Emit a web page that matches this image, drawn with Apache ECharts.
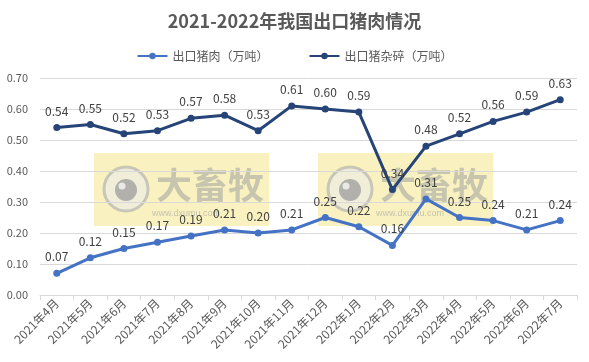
<!DOCTYPE html>
<html><head><meta charset="utf-8">
<script src="https://cdn.jsdelivr.net/npm/echarts@6/dist/echarts.min.js"></script>
<style>html,body{margin:0;padding:0;background:#fff}#c{width:589px;height:362px}</style>
</head><body><div id="c"></div>
<script>
const categories = ['2021年4月','2021年5月','2021年6月','2021年7月','2021年8月','2021年9月','2021年10月','2021年11月','2021年12月','2022年1月','2022年2月','2022年3月','2022年4月','2022年5月','2022年6月','2022年7月'];
const pork = [0.07,0.12,0.15,0.17,0.19,0.21,0.20,0.21,0.25,0.22,0.16,0.31,0.25,0.24,0.21,0.24];
const offal = [0.54,0.55,0.52,0.53,0.57,0.58,0.53,0.61,0.60,0.59,0.34,0.48,0.52,0.56,0.59,0.63];
const seriesNames = ['出口猪肉（万吨）','出口猪杂碎（万吨）'];

const FONT = '"Microsoft YaHei","Noto Sans CJK SC",sans-serif';
function watermark(x){
  return {type:'group', left:x, top:153, z:100, children:[
    {type:'rect', shape:{x:0,y:0,width:175,height:73}, style:{fill:'rgba(244,232,140,0.55)'}},
    {type:'circle', shape:{cx:32,cy:36,r:22}, style:{fill:'rgba(235,235,235,0.6)', stroke:'rgba(170,170,170,0.6)', lineWidth:3}},
    {type:'circle', shape:{cx:32,cy:37,r:11}, style:{fill:'rgba(150,150,150,0.7)'}},
    {type:'circle', shape:{cx:28,cy:33,r:3.5}, style:{fill:'rgba(240,240,240,0.9)'}},
    {type:'text', x:62, y:14, style:{text:'大畜牧', font:'bold 36px '+FONT, fill:'rgba(160,160,160,0.55)'}},
    {type:'text', x:58, y:56, style:{text:'www.dxumu.com', font:'9px sans-serif', fill:'rgba(160,160,160,0.6)'}}
  ]};
}
const chart = echarts.init(document.getElementById('c'), null, {renderer:'canvas'});
const labelStyle = {show:true, position:'top', distance:7, fontSize:12, color:'#404040', fontFamily:FONT, formatter:p=>p.value.toFixed(2)};
chart.setOption({
  animation:false,
  textStyle:{fontFamily:FONT},
  title:{text:'2021-2022年我国出口猪肉情况', left:'center', top:7, textStyle:{fontSize:18, fontWeight:'bold', color:'#595959', fontFamily:FONT}},
  legend:{top:45, left:'center', itemGap:40, itemWidth:30, itemHeight:8, textStyle:{fontSize:12, color:'#595959'}, data:seriesNames},
  grid:{left:40, right:12, top:78, bottom:67},
  xAxis:{type:'category', data:categories, boundaryGap:true,
    axisLine:{lineStyle:{color:'#d9d9d9'}}, axisTick:{show:true, lineStyle:{color:'#d9d9d9'}},
    axisLabel:{rotate:45, fontSize:12, color:'#595959', interval:0, margin:6}},
  yAxis:{type:'value', min:0, max:0.7, interval:0.1,
    axisLabel:{fontSize:11, color:'#595959', formatter:v=>v.toFixed(2), margin:12},
    splitLine:{lineStyle:{color:'#d9d9d9'}}, axisLine:{show:false}, axisTick:{show:false}},
  series:[
    {name:seriesNames[0], type:'line', data:pork, symbol:'circle', symbolSize:7,
      lineStyle:{width:3, color:'#4472C4'}, itemStyle:{color:'#4472C4'}, label:labelStyle},
    {name:seriesNames[1], type:'line', data:offal, symbol:'circle', symbolSize:7,
      lineStyle:{width:3, color:'#264478'}, itemStyle:{color:'#264478'}, label:labelStyle}
  ],
  graphic:[watermark(94), watermark(318)]
});
</script></body></html>
